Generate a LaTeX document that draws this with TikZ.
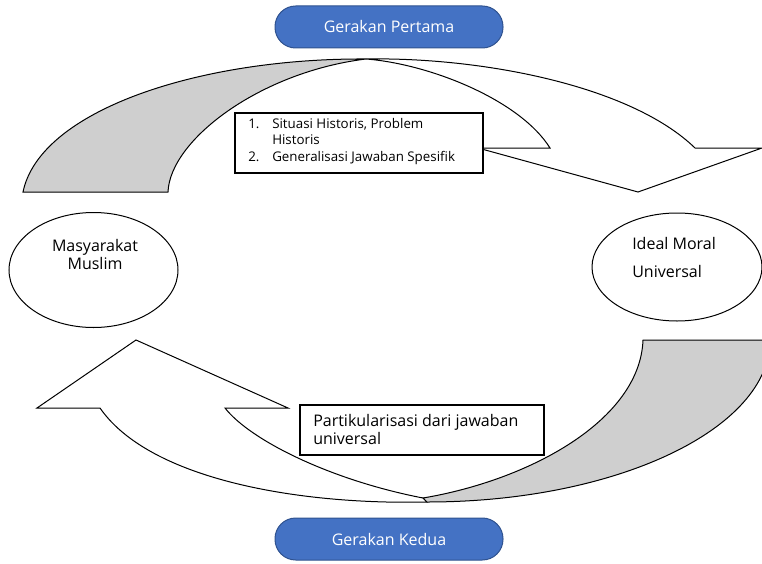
\documentclass[tikz,border=0pt]{standalone}
\usepackage{fontspec}
\setmainfont{Open Sans}
\usetikzlibrary{shapes.geometric}

\begin{document}
\begin{tikzpicture}[x=0.75pt,y=0.75pt,yscale=-1,xscale=1,
  pill/.style={draw={rgb, 255:red, 47; green, 82; blue, 143 }, line width=0.75pt,
    fill={rgb, 255:red, 68; green, 114; blue, 196 }, rounded corners=15.5pt,
    minimum width=171pt, minimum height=31.5pt, text=white, font=\fontsize{12}{14.4}\selectfont},
  place/.style={draw, ellipse, line width=0.75pt, fill=white, inner sep=0pt},
  box/.style={draw, line width=0.9pt, fill=white, inner sep=0pt},
  lbl/.style={inner sep=0.75pt, align=left, font=\fontsize{12}{13.5}\selectfont}]
\useasboundingbox (0,0) rectangle (762,563);
\clip (0,0) rectangle (762,563);

%Shape: Curved Down Arrow, back part
\draw [fill={rgb, 255:red, 207; green, 207; blue, 207 }, line width=0.75pt] (23,192) .. controls (40,110) and (200,58) .. (366,59) .. controls (260,72) and (170,140) .. (168,192) -- cycle ;
%Shape: Curved Down Arrow, front part
\draw [fill=white, line width=0.75pt] (366,59) .. controls (480,57) and (630,85) .. (695,148) -- (762,148) -- (638,192) -- (478,148) -- (550,148) .. controls (520,100) and (430,64) .. (366,59) -- cycle ;

%Shape: Curved Up Arrow, front part
\draw [fill=white, line width=0.75pt] (427,502) .. controls (300,505) and (150,480) .. (100,408) -- (37,408) -- (136,340) -- (288,408) -- (225,408) .. controls (250,440) and (330,480) .. (423,498) -- cycle ;
%Shape: Curved Up Arrow, back part
\draw [fill={rgb, 255:red, 207; green, 207; blue, 207 }, line width=0.75pt] (643,340) -- (770,340) .. controls (770,429) and (616,502) .. (427,502) -- (423,498) .. controls (530,480) and (640,420) .. (643,340) -- cycle ;

%Shape: Ellipse
\node [place, minimum width=126.75pt, minimum height=86.25pt] (muslim) at (93.5,270) {};
%Shape: Ellipse
\node [place, minimum width=127.5pt, minimum height=81pt] (ideal) at (677,267) {};

%Shape: Rectangle
\node [box, minimum width=186pt, minimum height=45pt] (histbox) at (359,143) {};
%Shape: Rectangle
\node [box, minimum width=183pt, minimum height=37.5pt] (partbox) at (422,430) {};

%Shape: Rounded Rectangle
\node [pill] (gerak1) at (389,27) {Gerakan Pertama};
%Shape: Rounded Rectangle
\node [pill] (gerak2) at (389,539) {Gerakan Kedua};

% Text Node
\node [lbl, align=center] (muslimtxt) at (95,254) {Masyarakat\\Muslim};
% Text Node
\node [lbl, anchor=west] (idealtxt) at (631,257.5) {Ideal Moral\\[7.35pt]Universal};
% Text Node
\node [lbl, anchor=west, font=\fontsize{10}{12.4}\selectfont] (histtxt) at (247,141.5) {\begin{tabular}{@{}p{18pt}@{}l@{}}
1. & Situasi Historis, Problem\\
 & Historis\\
2. & Generalisasi Jawaban Spesifik
\end{tabular}};
% Text Node
\node [lbl, anchor=west] (parttxt) at (312,429) {Partikularisasi dari jawaban\\universal};

\end{tikzpicture}
\end{document}
